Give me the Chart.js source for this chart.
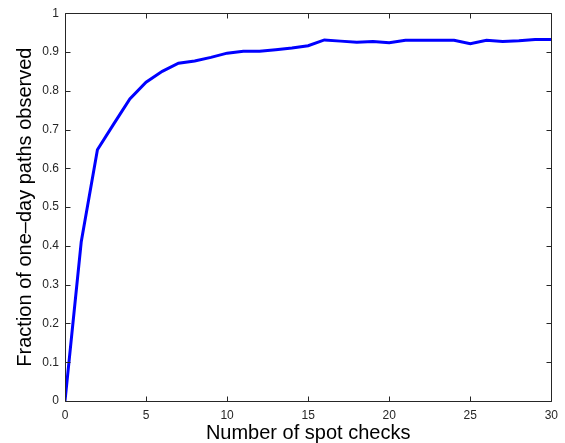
<!DOCTYPE html>
<html>
<head>
<meta charset="utf-8">
<script src="https://cdn.jsdelivr.net/npm/chart.js@4.4.1/dist/chart.umd.min.js"></script>
<style>
  html, body { margin: 0; padding: 0; background: #fff; }
  canvas { display: block; }
</style>
</head>
<body>
<canvas id="chart" width="565" height="443"></canvas>
<script>
// Values
const spotChecks = [0, 1, 2, 3, 4, 5, 6, 7, 8, 9, 10, 11, 12, 13, 14, 15,
                    16, 17, 18, 19, 20, 21, 22, 23, 24, 25, 26, 27, 28, 29, 30];
const fractionObserved = [0, 0.41, 0.648, 0.714, 0.779, 0.822, 0.850, 0.871, 0.877, 0.886, 0.897,
                          0.902, 0.902, 0.906, 0.910, 0.916, 0.931, 0.928, 0.925, 0.927, 0.924,
                          0.930, 0.930, 0.930, 0.930, 0.921, 0.930, 0.927, 0.929, 0.932, 0.932];
const xTicks = [0, 5, 10, 15, 20, 25, 30];
const yTicks = [0, 0.1, 0.2, 0.3, 0.4, 0.5, 0.6, 0.7, 0.8, 0.9, 1];

const xTitle = "Number of spot checks";
const yTitle = "Fraction of one\u2013day paths observed";

const axisColor = "#262626";

// Box round the plot area with inward ticks on all four sides (matlab look)
const boxPlugin = {
    id: "box",
    afterDatasetsDraw(chart) {
        const { ctx, chartArea: a, scales: { x, y } } = chart;
        const L = Math.round(a.left) + 0.5, R = Math.round(a.right) + 0.5;
        const T = Math.round(a.top) + 0.5, B = Math.round(a.bottom) + 0.5;
        const tick = 5;
        ctx.save();
        ctx.strokeStyle = axisColor;
        ctx.lineWidth = 1;
        ctx.beginPath();
        ctx.rect(L, T, R - L, B - T);
        x.ticks.forEach((t) => {
            const px = Math.round(x.getPixelForValue(t.value)) + 0.5;
            ctx.moveTo(px, B); ctx.lineTo(px, B - tick);
            ctx.moveTo(px, T); ctx.lineTo(px, T + tick);
        });
        y.ticks.forEach((t) => {
            const py = Math.round(y.getPixelForValue(t.value)) + 0.5;
            ctx.moveTo(L, py); ctx.lineTo(L + tick, py);
            ctx.moveTo(R, py); ctx.lineTo(R - tick, py);
        });
        ctx.stroke();
        ctx.restore();
    },
};

new Chart(document.getElementById("chart"), {
    type: "line",
    data: {
        datasets: [{
            data: spotChecks.map((v, i) => ({ x: v, y: fractionObserved[i] })),
            borderColor: "#0000ff",
            borderWidth: 3,
            pointRadius: 0,
            tension: 0,
            fill: false,
        }],
    },
    options: {
        responsive: false,
        animation: false,
        layout: { padding: { top: 10, right: 7, left: 0, bottom: 0 } },
        plugins: { legend: { display: false }, tooltip: { enabled: false } },
        scales: {
            x: {
                type: "linear",
                min: 0,
                max: 30,
                afterBuildTicks: (s) => { s.ticks = xTicks.map((v) => ({ value: v })); },
                afterFit: (s) => { s.height = 42; },
                grid: { display: false, drawTicks: false, tickLength: 0 },
                border: { display: false },
                ticks: {
                    color: "#262626",
                    padding: 7,
                    maxRotation: 0,
                    font: { family: "'Liberation Sans', Arial, sans-serif", size: 12 },
                    callback: (v) => String(v),
                },
                title: {
                    display: true,
                    text: xTitle,
                    color: "#000",
                    padding: { top: 0, bottom: 0 },
                    font: { family: "'Liberation Sans', Arial, sans-serif", size: 20, lineHeight: 1 },
                },
            },
            y: {
                min: 0,
                max: 1,
                afterBuildTicks: (s) => { s.ticks = yTicks.map((v) => ({ value: v })); },
                afterFit: (s) => { s.width = 65; },
                grid: { display: false, drawTicks: false, tickLength: 0 },
                border: { display: false },
                ticks: {
                    color: "#262626",
                    padding: 6,
                    font: { family: "'Liberation Sans', Arial, sans-serif", size: 12 },
                    callback: (v) => String(v),
                },
                title: {
                    display: true,
                    text: yTitle,
                    color: "#000",
                    padding: { top: 15, bottom: 0 },
                    font: { family: "'Liberation Sans', Arial, sans-serif", size: 20, lineHeight: 1 },
                },
            },
        },
    },
    plugins: [boxPlugin],
});
</script>
</body>
</html>
